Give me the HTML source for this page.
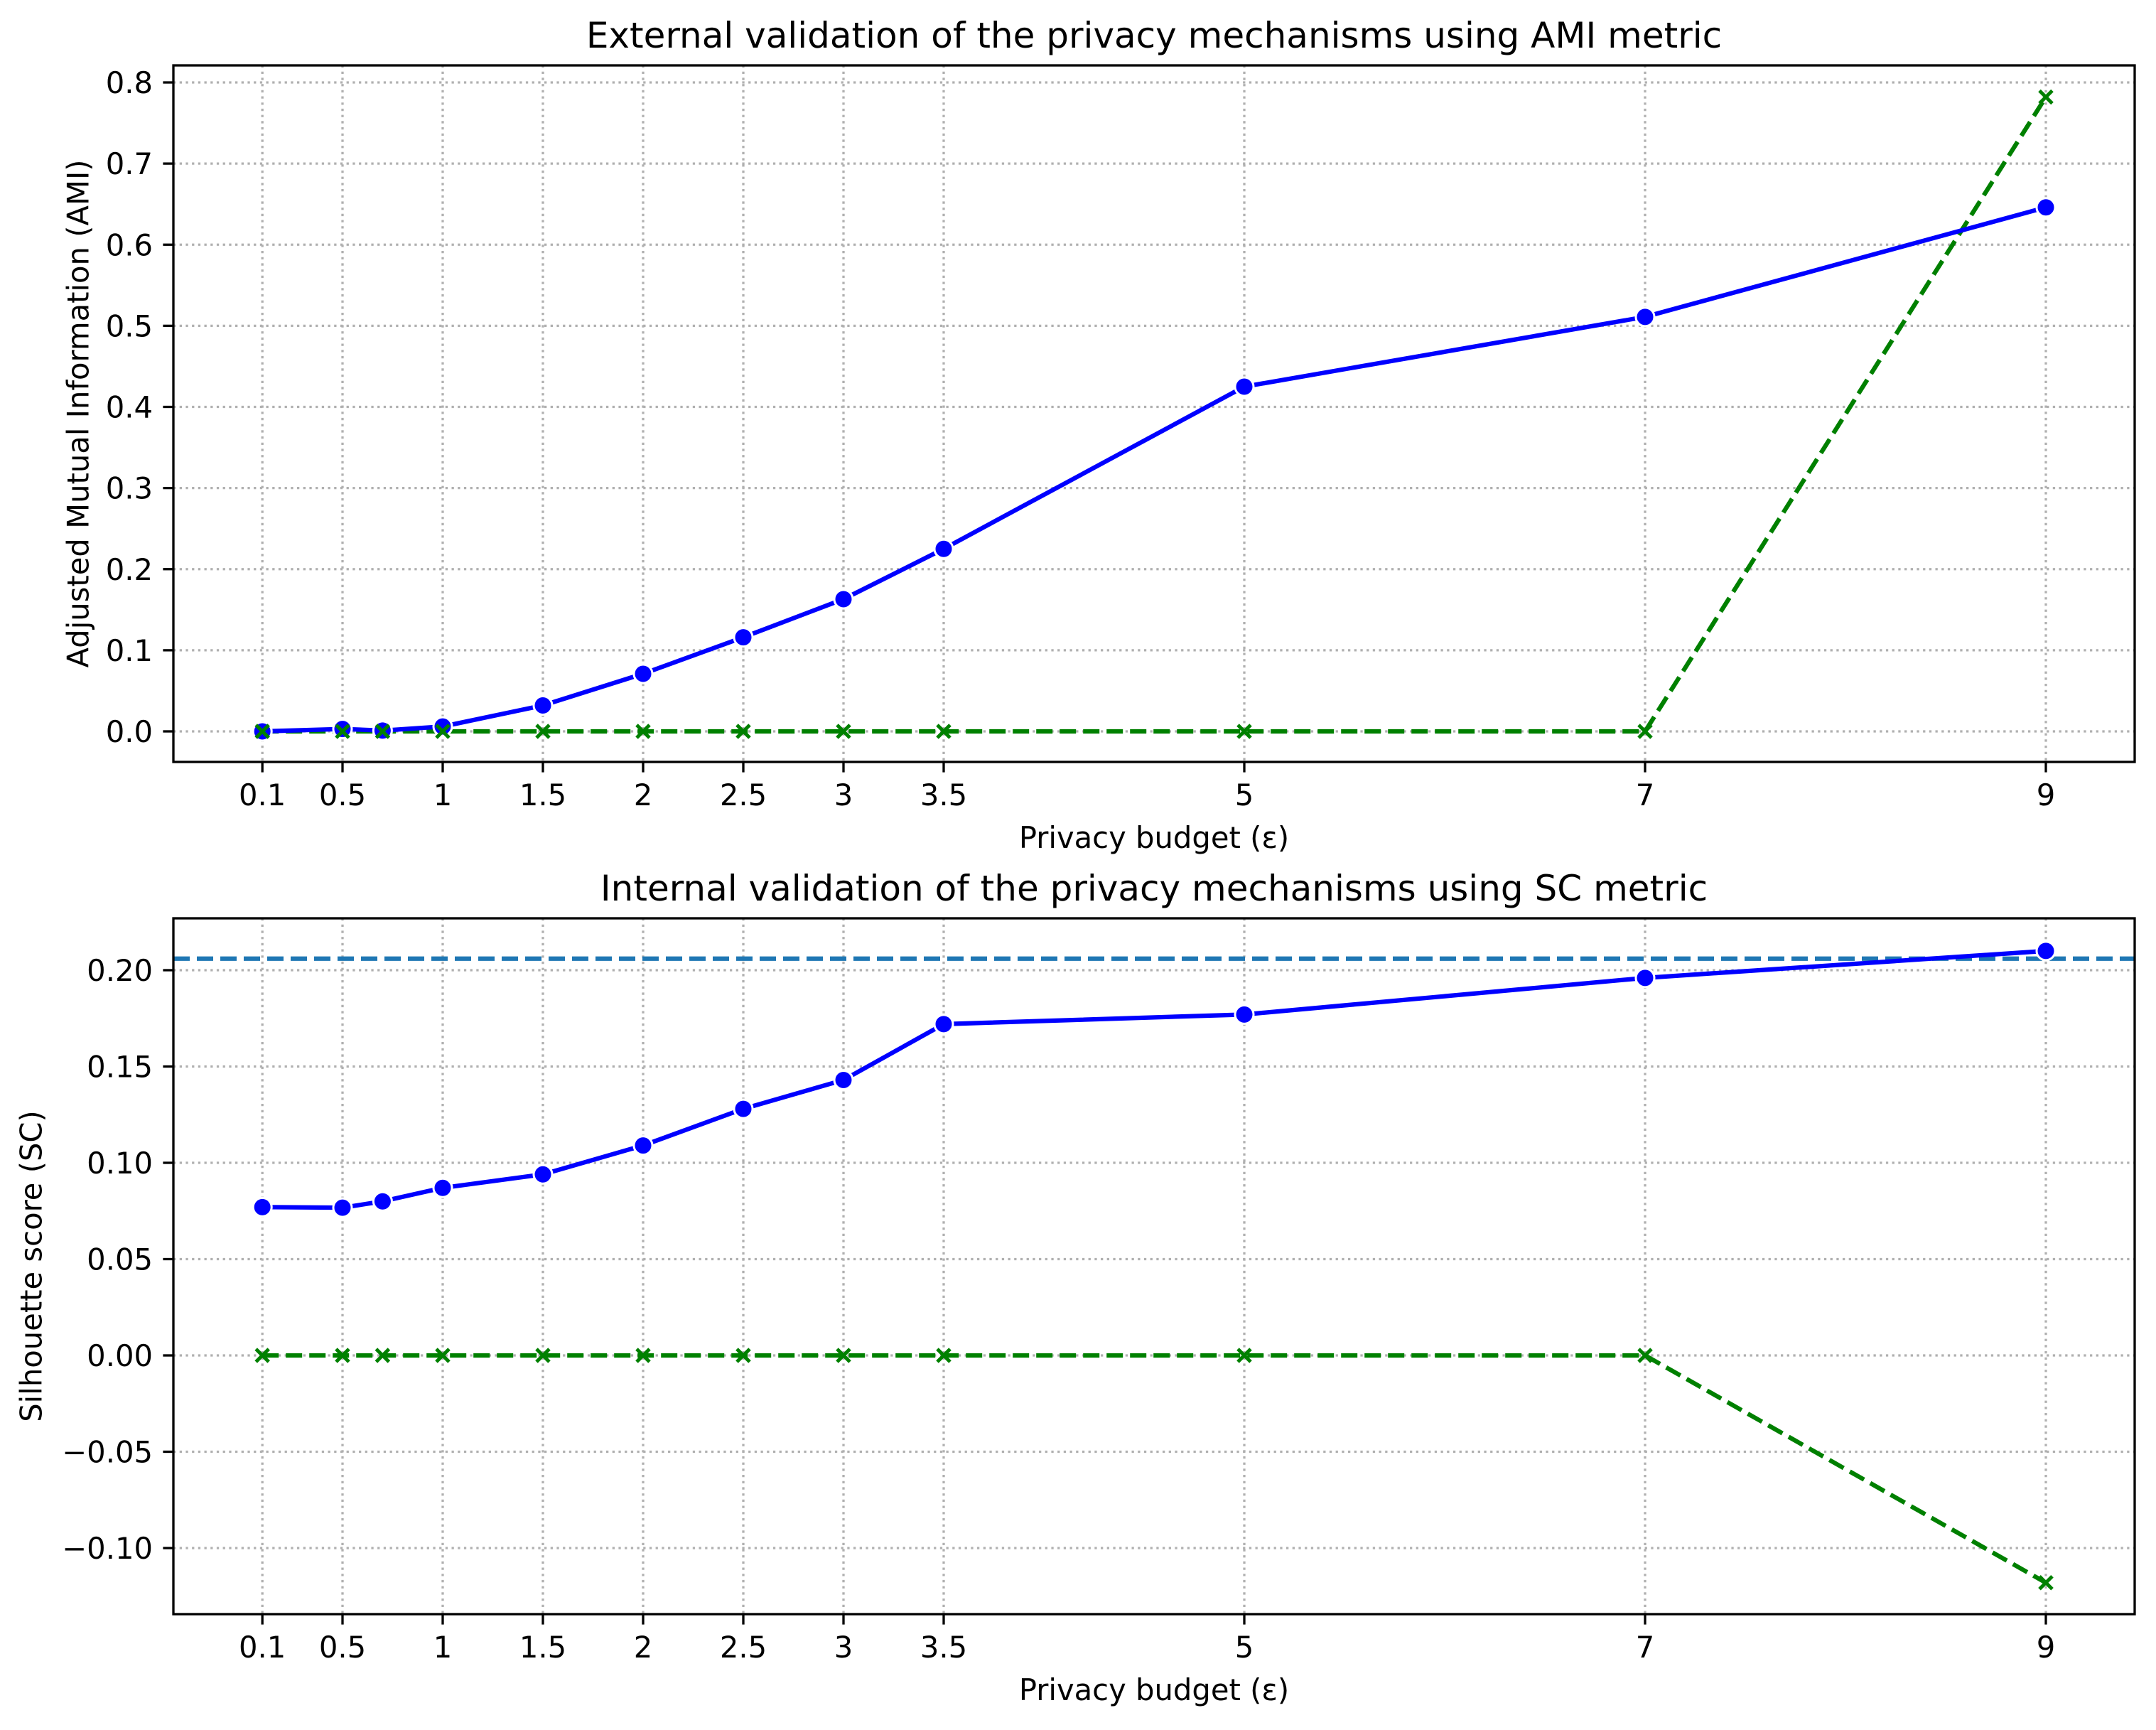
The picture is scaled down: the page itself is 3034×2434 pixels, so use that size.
<!DOCTYPE html>
<html><head><meta charset="utf-8"><style>
body{margin:0;background:#fff}
svg{display:block;font-family:"DejaVu Sans","Liberation Sans",sans-serif}
</style></head><body>
<svg id="fig" width="3034" height="2434" xmlns="http://www.w3.org/2000/svg"></svg>
<script>
const xCats = [0.1, 0.5, 0.7, 1, 1.5, 2, 2.5, 3, 3.5, 5, 7, 9];
const xTickVals = [0.1, 0.5, 1, 1.5, 2, 2.5, 3, 3.5, 5, 7, 9];
const xTickLabels = ["0.1","0.5","1","1.5","2","2.5","3","3.5","5","7","9"];
const amiBlue = [0.0, 0.003, 0.001, 0.006, 0.032, 0.071, 0.116, 0.163, 0.225, 0.425, 0.511, 0.646];
const amiGreen = [0, 0, 0, 0, 0, 0, 0, 0, 0, 0, 0, 0.782];
const scBlue = [0.077, 0.0767, 0.080, 0.087, 0.094, 0.109, 0.128, 0.143, 0.172, 0.177, 0.196, 0.210];
const scGreen = [0, 0, 0, 0, 0, 0, 0, 0, 0, 0, 0, -0.118];
const scBaseline = 0.206;
const amiTicks = [0.0,0.1,0.2,0.3,0.4,0.5,0.6,0.7,0.8];
const amiTickLabels = ["0.0","0.1","0.2","0.3","0.4","0.5","0.6","0.7","0.8"];
const scTicks = [-0.10,-0.05,0.0,0.05,0.10,0.15,0.20];
const scTickLabels = ["\u22120.10","\u22120.05","0.00","0.05","0.10","0.15","0.20"];

const NS="http://www.w3.org/2000/svg";
const svg=document.getElementById('fig');
function mk(tag,attrs,parent){const e=document.createElementNS(NS,tag);for(const k in attrs)e.setAttribute(k,attrs[k]);(parent||svg).appendChild(e);return e;}
const L=244,R=3004;
const xs=v=>623+(v-1)*282;
const FS=41.7;

function panel(cfg){
  const g=mk('g',{});
  
  
  const ys=v=>cfg.y0+(v-cfg.vmin)*(cfg.y1-cfg.y0)/(cfg.vmax-cfg.vmin);
  xTickVals.forEach((v,i)=>{
    const l=mk('line',{x1:xs(v),x2:xs(v),y1:cfg.top,y2:cfg.bot,stroke:'#b0b0b0','stroke-width':3.3,'stroke-dasharray':'3.3,5.4'},g);
    
    
    mk('line',{x1:xs(v),x2:xs(v),y1:cfg.bot,y2:cfg.bot+14.6,stroke:'#000','stroke-width':3.3},g);
    const tx=mk('text',{x:xs(v),y:cfg.bot+61,'font-size':FS,'text-anchor':'middle'},g);
    tx.textContent=xTickLabels[i];
    
    
  });
  cfg.ticks.forEach((v,i)=>{
    const y=ys(v);
    const l=mk('line',{x1:L,x2:R,y1:y,y2:y,stroke:'#b0b0b0','stroke-width':3.3,'stroke-dasharray':'3.3,5.4'},g);
    
    
    mk('line',{x1:L-14.6,x2:L,y1:y,y2:y,stroke:'#000','stroke-width':3.3},g);
    const tx=mk('text',{x:L-29,y:y+15,'font-size':FS,'text-anchor':'end'},g);
    tx.textContent=cfg.tickLabels[i];
    
    
  });
  if(cfg.baseline!==undefined){
    const b=mk('line',{x1:L,x2:R,y1:ys(cfg.baseline),y2:ys(cfg.baseline),stroke:'#1f77b4','stroke-width':6.25,'stroke-dasharray':'23,10'},g);
    
    
  }
  const gp=xCats.map((x,i)=>xs(x)+','+ys(cfg.green[i])).join(' ');
  const gl=mk('polyline',{points:gp,fill:'none',stroke:'#008000','stroke-width':6.25,'stroke-dasharray':'23,10'},g);
  
  
  const bp=xCats.map((x,i)=>xs(x)+','+ys(cfg.blue[i])).join(' ');
  const bl=mk('polyline',{points:bp,fill:'none',stroke:'#0000ff','stroke-width':6.25},g);
  
  
  xCats.forEach((x,i)=>{
    const c=mk('circle',{cx:xs(x),cy:ys(cfg.blue[i]),r:13,fill:'#0000ff',stroke:'#fff','stroke-width':3},g);
    
    
  });
  xCats.forEach((x,i)=>{
    const cx=xs(x),cy=ys(cfg.green[i]),s=9;
    const p=mk('path',{d:`M${cx-s},${cy-s}L${cx+s},${cy+s}M${cx-s},${cy+s}L${cx+s},${cy-s}`,stroke:'#008000','stroke-width':5},g);
    
    
  });
  const fr=mk('rect',{x:L,y:cfg.top,width:R-L,height:cfg.bot-cfg.top,fill:'none',stroke:'#000','stroke-width':3.3},g);
  
  
  const ti=mk('text',{x:(L+R)/2,y:cfg.top-25,'font-size':50,'text-anchor':'middle'},g);
  ti.textContent=cfg.title;
  
  
  const xl=mk('text',{x:(L+R)/2,y:cfg.bot+121,'font-size':FS,'text-anchor':'middle'},g);
  xl.textContent='Privacy budget (\u03B5)';
  
  
  const cy=(cfg.top+cfg.bot)/2;
  const yl=mk('text',{x:cfg.ylx,y:cy,'font-size':FS,'text-anchor':'middle','dominant-baseline':'central',transform:`rotate(-90 ${cfg.ylx} ${cy})`},g);
  yl.textContent=cfg.ylabel;
  
  
}
panel({name:'ami-panel',title:'External validation of the privacy mechanisms using AMI metric',ylabel:'Adjusted Mutual Information (AMI)',
  top:92,bot:1072,vmin:0,vmax:0.8,y0:1029,y1:116,ticks:amiTicks,tickLabels:amiTickLabels,blue:amiBlue,green:amiGreen,ylx:110});
panel({name:'sc-panel',title:'Internal validation of the privacy mechanisms using SC metric',ylabel:'Silhouette score (SC)',
  top:1292,bot:2271,vmin:0,vmax:0.2,y0:1907,y1:1365,ticks:scTicks,tickLabels:scTickLabels,blue:scBlue,green:scGreen,baseline:scBaseline,ylx:44});
</script>
</body></html>
